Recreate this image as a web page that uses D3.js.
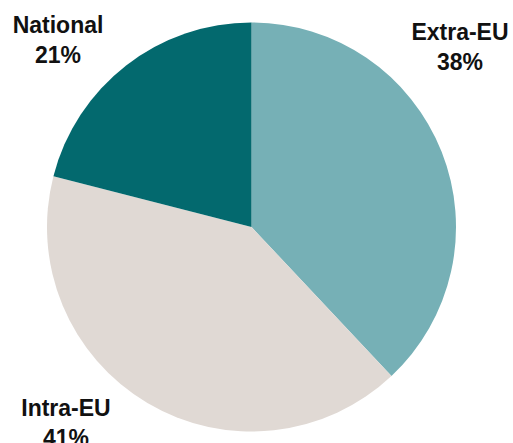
<!DOCTYPE html>
<html lang="en">
  <head>
    <meta charset="utf-8">
    <title>Trade share pie</title>
    <script src="https://d3js.org/d3.v7.min.js"></script>
    <style>
      body { margin: 0; background: #fff; }
      text { font-family: "Liberation Sans", Arial, sans-serif; font-weight: bold; fill: #111; }
    </style>
  </head>
  <body>
    <svg width="513" height="443"></svg>
    <script type="text/javascript">

        // data, clockwise from 12 o'clock
        var categories = ["Extra-EU", "Intra-EU", "National"];
        var shares = [38, 41, 21];
        var colors = ["#76b0b6", "#e0d9d4", "#03696e"];

        // label positions (centre x, first baseline)
        var labelPos = [[460, 40], [66, 416], [58, 33]];

        var svg = d3.select("svg");
        var cx = 251.5, cy = 227, r = 204.5;

        var pie = d3.pie().sort(null).value(function(d){ return d; });
        var arc = d3.arc().innerRadius(0).outerRadius(r);

        var g = svg.append("g").attr("transform", "translate(" + cx + "," + cy + ")");

        g.selectAll("path")
          .data(pie(shares))
          .enter().append("path")
          .attr("d", arc)
          .style("fill", function(d, i){ return colors[i]; });

        var labels = svg.selectAll("text.lbl")
          .data(categories)
          .enter().append("text")
          .attr("class", "lbl")
          .attr("text-anchor", "middle")
          .attr("font-size", "23px")
          .attr("x", function(d, i){ return labelPos[i][0]; })
          .attr("y", function(d, i){ return labelPos[i][1]; });

        labels.append("tspan")
          .attr("x", function(d, i){ return labelPos[i][0]; })
          .text(function(d){ return d; });
        labels.append("tspan")
          .attr("x", function(d, i){ return labelPos[i][0]; })
          .attr("dy", 30)
          .text(function(d, i){ return shares[i] + "%"; });

    </script>
  </body>
</html>
